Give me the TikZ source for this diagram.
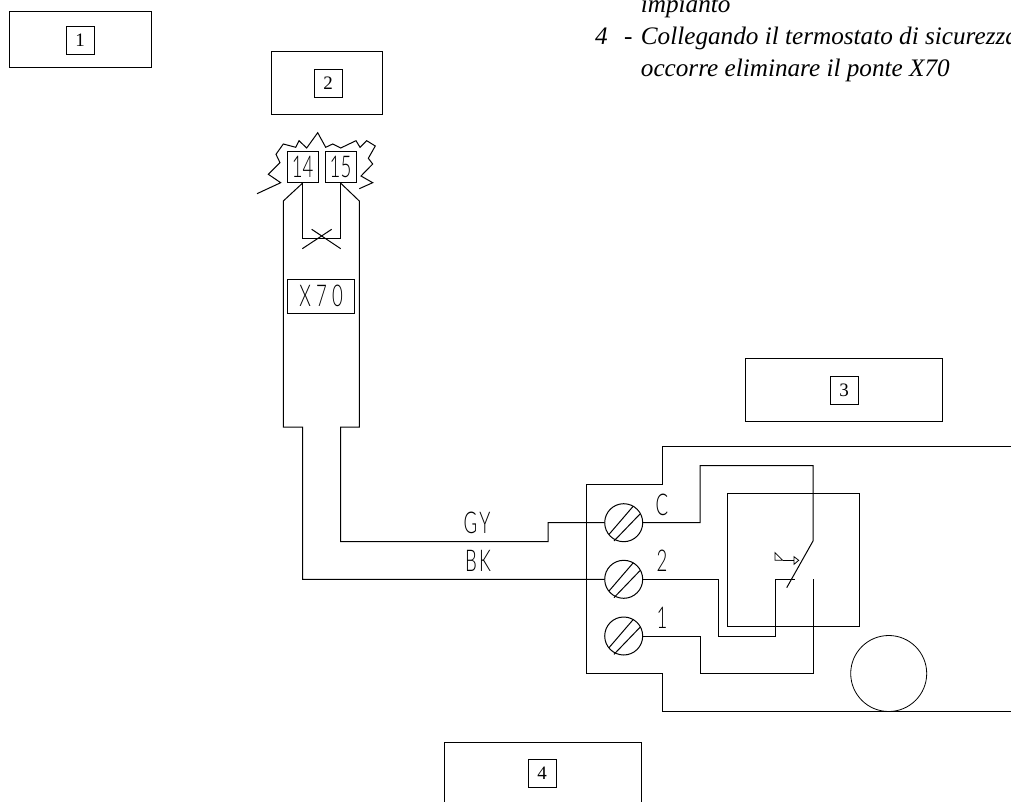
\documentclass[tikz,border=0pt]{standalone}
\usepackage{fontspec}
\setmainfont{Liberation Serif}
\newfontfamily\cadfont{Lato}[UprightFont=* Light]
\tikzset{
  wire/.style={line width=1pt, line join=miter},
  framebox/.style={rectangle, draw, line width=1pt, inner sep=0pt},
  numbox/.style={rectangle, draw, line width=.8pt, inner sep=0pt, minimum size=28pt, font=\fontsize{19}{19}\selectfont},
  termbox/.style={rectangle, draw, line width=1pt, inner sep=0pt, minimum width=31pt, minimum height=31pt},
  cadtext/.style={inner sep=0pt, xscale=.62, font=\fontsize{30}{30}\selectfont\cadfont},
  screw/.style={circle, draw, line width=1pt, inner sep=0pt, minimum size=38pt},
  notetext/.style={inner sep=0pt, anchor=base west, font=\fontsize{25.2}{25.2}\selectfont\itshape}
}
\begin{document}
\begin{tikzpicture}[x=1pt, y=-1pt]
\useasboundingbox (0,0) rectangle (1011,802);
\clip (0,0) rectangle (1011,802);

\node [framebox, minimum width=142pt, minimum height=56pt] (box1) at (80,40) {};
\node [framebox, minimum width=111pt, minimum height=63pt] (box2) at (326.5,83.5) {};
\node [framebox, minimum width=197pt, minimum height=63pt] (box3) at (843.5,389.5) {};
\node [framebox, minimum width=197pt, minimum height=63pt] (box4) at (542.5,773.5) {};
\node [numbox] (num1) at (80,40) {1};
\node [numbox] (num2) at (328,83.5) {2};
\node [numbox] (num3) at (844,390) {3};
\node [numbox] (num4) at (542,773) {4};

\node [notetext] (note1) at (640.7,13) {impianto};
\node [notetext] (note2) at (595,45) {4};
\node [notetext] (note3) at (624,45) {-};
\node [notetext] (note4) at (640.7,45) {Collegando il termostato di sicurezza};
\node [notetext] (note5) at (640.7,77) {occorre eliminare il ponte X70};

\node [termbox] (t14) at (302.7,167) {};
\node [termbox] (t15) at (340.5,167) {};
\node [cadtext] (l14) at (t14) {14};
\node [cadtext] (l15) at (t15) {15};
\node [framebox, minimum width=67pt, minimum height=34pt] (x70) at (321.2,296) {};
\node [cadtext] (lx70) at (x70) {X\hspace{.28em}7\hspace{.28em}0};

\draw[wire] (257,193.7) -- (280.7,182.7) -- (268.3,174.3) -- (280,162.7) -- (276,154.3) -- (283.3,144) -- (295.7,147.3) -- (299,140.7) -- (306.7,148) -- (317.7,132.7) -- (325.7,147.3) -- (332.7,144) -- (340.7,148) -- (356,140.7) -- (360,147.3) -- (366.7,140.7) -- (375.3,146) -- (368.3,158.3) -- (372.7,164) -- (361,176) -- (372.7,182.7) -- (359.3,188.7);

\node [screw] (tC) at (623.7,522.7) {};
\node [screw] (t2) at (623.7,579.3) {};
\node [screw] (t1) at (623.7,636) {};
\foreach \t in {tC,t2,t1} {
  \draw[wire] ([shift={(-14.7,11.7)}]\t.center) -- ([shift={(9.7,-16.7)}]\t.center);
  \draw[wire] ([shift={(-9.7,18.3)}]\t.center) -- ([shift={(16.3,-8.7)}]\t.center);
}
\node [cadtext] (lC) at (662,505) {C};
\node [cadtext] (l2) at (662,561) {2};
\node [cadtext] (l1) at (662,618) {1};
\node [cadtext] (lGY) at (477,522.7) {G\hspace{.12em}Y};
\node [cadtext] (lBK) at (478,560.7) {B\hspace{.12em}K};

\draw[wire] (t14.south) -- (t14.south |- 0,239) -- (t15.south |- 0,239) -- (t15.south);
\draw[wire] (302.3,248.7) -- (331.7,229.3);
\draw[wire] (311.7,229.3) -- (340.7,248.7);
\draw[wire] (t14.south) -- (283.3,201) -- (283.3,427) -- (302.7,427) |- (t2.west);
\draw[wire] (t15.south) -- (359.3,201) -- (359.3,427) -- (340.7,427) -- (340.7,541.5) -- (548,541.5) |- (tC.west);

\draw[wire] (1011,446.5) -- (662,446.5) -- (662,484.7) -- (586,484.7) -- (586,673.7) -- (662,673.7) -- (662,711.7) -- (1011,711.7);

\coordinate (bladetop) at (813,541);
\coordinate (bladeend) at (786.7,587.7);
\coordinate (fixed) at (794.7,579.3);
\coordinate (contact) at (813,579.3);
\draw[wire] (tC.east) -- (700,522.7) -- (700,465.5) -- (813,465.5) -- (bladetop) -- (bladeend);
\draw[wire] (t2.east) -- (718.7,579.3) -- (718.7,636) -- (775.3,636) -- (775.3,579.3) -- (fixed);
\draw[wire] (t1.east) -- (700,636) -- (700,673.7) -- (813,673.7) -- (contact);

\node [framebox, minimum width=132.4pt, minimum height=132.3pt] (sensor) at (793.5,559.85) {};
\draw[line width=.8pt] (775,552.7) -- (775,560.3) -- (782.7,560.3) -- cycle;
\draw[line width=.8pt] (782.7,560.3) -- (794,560.3);
\draw[line width=.8pt] (794,556.7) -- (798.7,560.3) -- (794,564.3) -- cycle;

\node [circle, draw, line width=.8pt, inner sep=0pt, minimum size=76pt] (bulb) at (888.7,673.5) {};
\end{tikzpicture}
\end{document}
